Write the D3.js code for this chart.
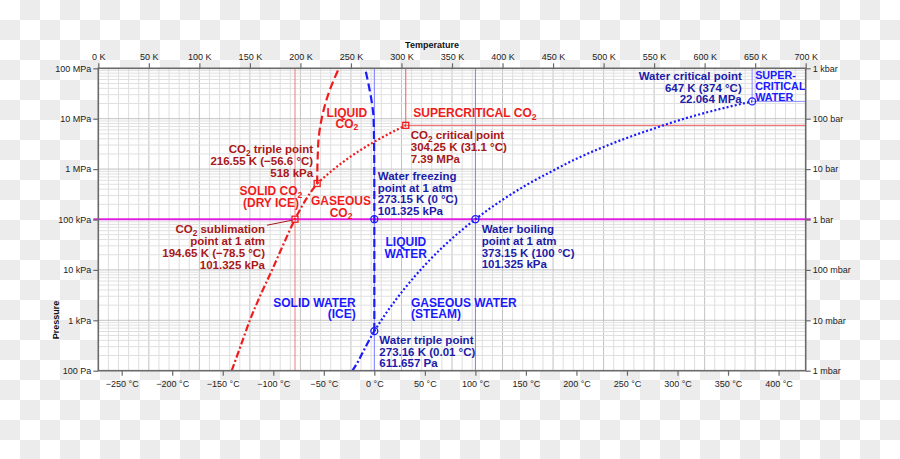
<!DOCTYPE html>
<html><head><meta charset="utf-8">
<script src="https://cdn.jsdelivr.net/npm/d3@7"></script>
<style>
html,body{margin:0;padding:0;background:#fff;}
svg{display:block;}
text{font-family:"Liberation Sans",Arial,Helvetica,sans-serif;}
</style></head><body><svg id="chart" width="900" height="459"></svg>
<script>
// ---------------- data ----------------
const kelvinTicks = d3.range(0, 701, 50);
const celsiusTicks = d3.range(-250, 401, 50);
const pressureTicks = [100, 1e3, 1e4, 1e5, 1e6, 1e7, 1e8];
const pascalLabels = ["100 Pa", "1 kPa", "10 kPa", "100 kPa", "1 MPa", "10 MPa", "100 MPa"];
const barLabels = ["1 mbar", "10 mbar", "100 mbar", "1 bar", "10 bar", "100 bar", "1 kbar"];
const atmosphere = 101325;

// curves: [temperature K, pressure Pa]
const co2Sublimation = [[132,100],[141,316],[150,1000],[160.5,3162],[172,1e4],[183,31623],[194.65,101325],[205.5,250000],[216.55,518000]];
const co2Melting = [[216.55,518000],[217.2,2e6],[218,4e6],[221,1e7],[225.3,2.2e7],[231,4.7e7],[238.2,1e8]];
const co2Vapor = [[216.55,518000],[230,890000],[240,1.28e6],[250,1.79e6],[260,2.42e6],[270,3.2e6],[280,4.16e6],[290,5.32e6],[300,6.71e6],[304.25,7.39e6]];
const waterSublimation = [[251.5,100],[258,165],[263,260],[268,403],[273.16,611.657]];
const waterMelting = [[273.16,611.657],[273.15,101325],[273.1,1e6],[272.4,1e7],[270.5,2.2e7],[267.5,4.7e7],[264,1e8]];
const waterVapor = [[273.16,611.657],[283,1228],[293,2339],[303,4246],[313,7384],[323,12350],[343,31200],[373.15,101325],[400,245800],[423,476000],[450,932000],[473,1.6e6],[500,2.75e6],[523,4.15e6],[550,6.4e6],[573,9.1e6],[600,13e6],[623,17e6],[647,22.064e6]];

// special points
const co2Points = { triple:[216.55,518000], sublimation:[194.65,101325], critical:[304.25,7.39e6] };
const waterPoints = { triple:[273.16,611.657], freezing:[273.15,101325], boiling:[373.15,101325], critical:[647,22.064e6] };

// annotation texts
const co2TripleText = ["CO₂ triple point", "216.55 K (−56.6 °C)", "518 kPa"];
const co2SublimationText = ["CO₂ sublimation", "point at 1 atm", "194.65 K (−78.5 °C)", "101.325 kPa"];
const co2CriticalText = ["CO₂ critical point", "304.25 K (31.1 °C)", "7.39 MPa"];
const waterFreezingText = ["Water freezing", "point at 1 atm", "273.15 K (0 °C)", "101.325 kPa"];
const waterBoilingText = ["Water boiling", "point at 1 atm", "373.15 K (100 °C)", "101.325 kPa"];
const waterTripleText = ["Water triple point", "273.16 K (0.01 °C)", "611.657 Pa"];
const waterCriticalText = ["Water critical point", "647 K (374 °C)", "22.064 MPa"];
// phase region labels: text lines, anchor [K, Pa]
const phaseLabels = [
  {lines:["LIQUID","CO₂"], at:[246,1.07e7], align:"middle", kind:"co2", lh:10.5},
  {lines:["SUPERCRITICAL CO₂"], at:[311.7,1.07e7], align:"start", kind:"co2", lh:12},
  {lines:["SOLID CO₂","(DRY ICE)"], at:[170.9,306000], align:"middle", kind:"co2", lh:11.7},
  {lines:["GASEOUS","CO₂"], at:[240.2,194000], align:"middle", kind:"co2", lh:11.7},
  {lines:["LIQUID","WATER"], at:[304.3,30200], align:"middle", kind:"water", lh:12},
  {lines:["SOLID WATER","(ICE)"], at:[254.7,1862], align:"end", kind:"water", lh:11.7},
  {lines:["GASEOUS WATER","(STEAM)"], at:[309.4,1862], align:"start", kind:"water", lh:11.7}
];
const superWaterText = ["SUPER-", "CRITICAL", "WATER"];

// ---------------- drawing ----------------
const W = 900, H = 459;
const svg = d3.select("#chart");
const L = 98.3, R = 805.7, T = 68.3, B = 370.7;
const x = d3.scaleLinear().domain([0, 700]).range([L, R]);
const xC = d3.scaleLinear().domain([-273.15, 426.85]).range([L, R]);
const y = d3.scaleLog().domain([100, 1e8]).range([B, T]);

const RED = "#f01c1c", DRED = "#a81818", BLUE = "#1a1aff", DBLUE = "#1c1ca8";

// checkerboard background
const cells = [];
for (let r = 0; r < Math.ceil(H/20); r++) for (let c = 0; c < Math.ceil(W/20); c++) if ((r + c) % 2 === 1) cells.push([c, r]);
svg.append("rect").attr("width",W).attr("height",H).attr("fill","#ffffff");
svg.append("g").selectAll("rect").data(cells).join("rect")
  .attr("x", d => d[0]*20).attr("y", d => d[1]*20).attr("width",20).attr("height",20).attr("fill","#ececec");
svg.append("rect").attr("x",L).attr("y",T).attr("width",R-L).attr("height",B-T).attr("fill","#fff");

// grid
const grid = svg.append("g");
d3.range(10, 700, 10).forEach(k => {
  grid.append("line").attr("x1",x(k)).attr("x2",x(k)).attr("y1",T).attr("y2",B)
    .attr("stroke", k % 50 === 0 ? "#c2c2c2" : "#dedede").attr("stroke-width",1);
});
const minorP = [];
[100,1e3,1e4,1e5,1e6,1e7].forEach(d => { for (let m = 2; m <= 9; m++) minorP.push(d*m); });
minorP.forEach(p => {
  grid.append("line").attr("x1",L).attr("x2",R).attr("y1",y(p)).attr("y2",y(p))
    .attr("stroke","#e0e0e0").attr("stroke-width",1);
});
[1e3,1e4,1e5,1e6,1e7].forEach(p => {
  grid.append("line").attr("x1",L).attr("x2",R).attr("y1",y(p)).attr("y2",y(p))
    .attr("stroke","#c2c2c2").attr("stroke-width",1);
});

// reference lines
const ref = svg.append("g").attr("fill","none").attr("stroke-width",1);
ref.append("line").attr("x1",x(co2Points.sublimation[0])).attr("x2",x(co2Points.sublimation[0])).attr("y1",T).attr("y2",B).attr("stroke","#f47a7a");
ref.append("path").attr("d",`M${x(co2Points.critical[0])},${T}V${y(co2Points.critical[1])}H${R}`).attr("stroke","#f05a5a");
ref.append("line").attr("x1",x(waterPoints.freezing[0])).attr("x2",x(waterPoints.freezing[0])).attr("y1",T).attr("y2",B).attr("stroke","#7a7aff");
ref.append("line").attr("x1",x(waterPoints.boiling[0])).attr("x2",x(waterPoints.boiling[0])).attr("y1",T).attr("y2",B).attr("stroke","#7a7aff");
ref.append("path").attr("d",`M${x(waterPoints.critical[0])},${T}V${y(waterPoints.critical[1])}H${R}`).attr("stroke","#8a8aff");

// 1 atm line
svg.append("line").attr("x1",L-5).attr("x2",R+5).attr("y1",y(atmosphere)).attr("y2",y(atmosphere))
  .attr("stroke","#e020e0").attr("stroke-width",2);

// curves
const line = d3.line().x(d => x(d[0])).y(d => y(d[1])).curve(d3.curveMonotoneY);
const lineX = d3.line().x(d => x(d[0])).y(d => y(d[1])).curve(d3.curveMonotoneX);
const cg = svg.append("g").attr("fill","none").attr("stroke-width",2.2);
cg.append("path").datum(co2Sublimation).attr("d",lineX).attr("stroke",RED).attr("stroke-dasharray","7,2.5,2,2.5");
cg.append("path").datum(co2Melting).attr("d",line).attr("stroke",RED).attr("stroke-dasharray","8,4");
cg.append("path").datum(co2Vapor).attr("d",lineX).attr("stroke",RED).attr("stroke-dasharray","2,2.2");
cg.append("path").datum(waterSublimation).attr("d",lineX).attr("stroke",BLUE).attr("stroke-dasharray","7,2.5,2,2.5");
cg.append("path").datum(waterMelting).attr("d",line).attr("stroke",BLUE).attr("stroke-dasharray","8,4");
cg.append("path").datum(waterVapor).attr("d",lineX).attr("stroke",BLUE).attr("stroke-dasharray","2,2.2");

// markers
const mg = svg.append("g").attr("fill","none").attr("stroke-width",1.3);
Object.values(co2Points).forEach(p => {
  mg.append("rect").attr("x",x(p[0])-3).attr("y",y(p[1])-3).attr("width",6).attr("height",6).attr("stroke",RED);
});
Object.values(waterPoints).forEach(p => {
  mg.append("circle").attr("cx",x(p[0])).attr("cy",y(p[1])).attr("r",3.5).attr("stroke",BLUE);
});

// text helper with subscript 2
function addText(g, lines, px, py, align, color, size, lh) {
  const shift = size * 0.22;
  lines.forEach((s, i) => {
    const t = g.append("text").attr("x",px).attr("y",py + i*lh).attr("text-anchor",align)
      .attr("fill",color).attr("font-size",size).attr("font-weight","bold");
    const parts = s.split("₂");
    parts.forEach((part, j) => {
      if (j === 0) { if (part.length) t.append("tspan").text(part); }
      else {
        t.append("tspan").attr("font-size", size*0.72).attr("dy", shift).text("2");
        if (part.length) t.append("tspan").attr("dy", -shift).text(part);
      }
    });
  });
}
const tg = svg.append("g");
function at(p) { return [x(p[0]), y(p[1])]; }
let P;
P = at(co2Points.triple);      addText(tg, co2TripleText, P[0]-4, P[1]-30.2, "end", DRED, 11.5, 11.9);
P = at(co2Points.sublimation); addText(tg, co2SublimationText, P[0]-30, P[1]+14, "end", DRED, 11.5, 11.9);
tg.append("line").attr("x1",P[0]-28).attr("y1",P[1]+6).attr("x2",P[0]-3).attr("y2",P[1]+1).attr("stroke",DRED).attr("stroke-width",1);
P = at(co2Points.critical);    addText(tg, co2CriticalText, P[0]+5, P[1]+14, "start", DRED, 11.5, 11.7);
P = at(waterPoints.freezing);  addText(tg, waterFreezingText, P[0]+3.4, P[1]-39.2, "start", DBLUE, 11.5, 11.7);
P = at(waterPoints.boiling);   addText(tg, waterBoilingText, P[0]+6.3, P[1]+14, "start", DBLUE, 11.5, 11.7);
P = at(waterPoints.triple);    addText(tg, waterTripleText, P[0]+5, P[1]+13, "start", DBLUE, 11.5, 11.7);
P = at(waterPoints.critical);  addText(tg, waterCriticalText, P[0]-10.4, P[1]-21.4, "end", DBLUE, 11.5, 11.7);
addText(tg, superWaterText, P[0]+3, P[1]-22.4, "start", BLUE, 10.8, 10.8);
phaseLabels.forEach(l => {
  const q = at(l.at);
  addText(tg, l.lines, q[0], q[1], l.align, l.kind === "co2" ? RED : BLUE, 12, l.lh);
});

// frame
svg.append("rect").attr("x",L).attr("y",T).attr("width",R-L).attr("height",B-T)
  .attr("fill","none").attr("stroke","#6a6a6a").attr("stroke-width",1.6);

// axes
function styleAxis(g) {
  g.select(".domain").remove();
  g.selectAll(".tick line").attr("stroke","#6a6a6a").attr("stroke-width",1.2);
  g.selectAll(".tick text").attr("fill","#222").attr("font-size",9).attr("font-family","'Liberation Sans',Arial,sans-serif");
}
svg.append("g").attr("transform",`translate(0,${T})`)
  .call(d3.axisTop(x).tickValues(kelvinTicks).tickSize(5).tickPadding(3).tickFormat(d => `${d} K`)).call(styleAxis);
svg.append("g").attr("transform",`translate(0,${B})`)
  .call(d3.axisBottom(xC).tickValues(celsiusTicks).tickSize(5).tickPadding(5).tickFormat(d => `${d < 0 ? "−" + (-d) : d} °C`)).call(styleAxis);
svg.append("g").attr("transform",`translate(${L},0)`)
  .call(d3.axisLeft(y).tickValues(pressureTicks).tickSize(5).tickPadding(2).tickFormat((d,i) => pascalLabels[i])).call(styleAxis);
svg.append("g").attr("transform",`translate(${R},0)`)
  .call(d3.axisRight(y).tickValues(pressureTicks).tickSize(5).tickPadding(2).tickFormat((d,i) => barLabels[i])).call(styleAxis);

svg.append("text").attr("x",432).attr("y",48).attr("text-anchor","middle").attr("font-size",9)
  .attr("font-weight","bold").attr("fill","#111").text("Temperature");
svg.append("text").attr("transform","translate(58.5,320) rotate(-90)").attr("text-anchor","middle").attr("font-size",9)
  .attr("font-weight","bold").attr("fill","#111").text("Pressure");
</script></body></html>
